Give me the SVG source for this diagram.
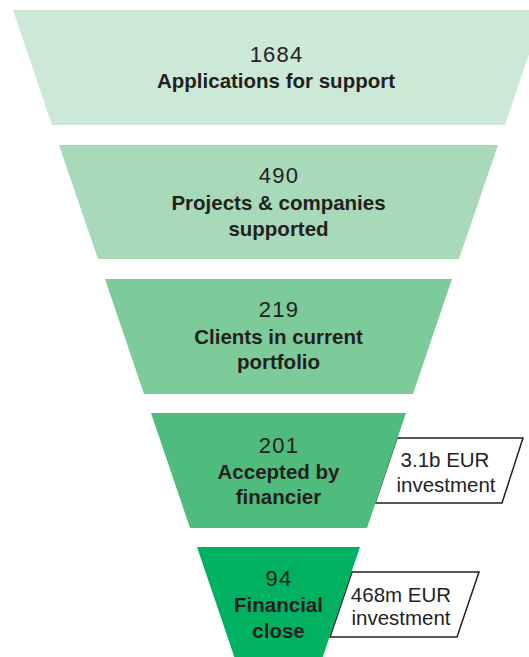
<svg xmlns="http://www.w3.org/2000/svg" width="529" height="657" viewBox="0 0 529 657">
<style>
.num{font-family:"Liberation Sans",Arial,sans-serif;font-size:22px;letter-spacing:1.2px;fill:#231f20;text-anchor:middle}
.lbl{font-family:"Liberation Sans",Arial,sans-serif;font-size:20.5px;font-weight:bold;fill:#231f20;text-anchor:middle}
.cal{font-family:"Liberation Sans",Arial,sans-serif;font-size:20.5px;fill:#231f20;text-anchor:middle}
.box{fill:#ffffff;stroke:#231f20;stroke-width:1.5;stroke-linejoin:miter}
</style>
<rect width="529" height="657" fill="#ffffff"/>
<g id="callouts">
<g id="callout-investment-201">
<polygon class="box" points="397,438 523,438 502,503 375,503"/>
<text class="cal" x="445" y="467">3.1b EUR</text>
<text class="cal" x="446" y="492">investment</text>
</g>
<g id="callout-investment-94">
<polygon class="box" points="352,572 479,572 457,637 330,637"/>
<text class="cal" x="401" y="602">468m EUR</text>
<text class="cal" x="401" y="625">investment</text>
</g>
</g>
<g id="stage-1">
<polygon points="13,10 544,10 505,125 52,125" fill="#cce8d6"/>
<text class="num" x="276.5" y="62">1684</text>
<text class="lbl" x="276" y="88">Applications for support</text>
</g>
<g id="stage-2">
<polygon points="59,145 498,145 459,259 98,259" fill="#a8d9b9"/>
<text class="num" x="279" y="183">490</text>
<text class="lbl" x="278.5" y="210">Projects &amp; companies</text>
<text class="lbl" x="278.5" y="236">supported</text>
</g>
<g id="stage-3">
<polygon points="105,279 452,279 413,394 144,394" fill="#7dca9a"/>
<text class="num" x="279" y="317">219</text>
<text class="lbl" x="278.5" y="344">Clients in current</text>
<text class="lbl" x="278.5" y="369">portfolio</text>
</g>
<g id="stage-4">
<polygon points="151,413 406,413 367,528 190,528" fill="#4fbb7c"/>
<text class="num" x="279" y="453">201</text>
<text class="lbl" x="278.5" y="479">Accepted by</text>
<text class="lbl" x="278.5" y="504">financier</text>
</g>
<g id="stage-5">
<polygon points="197,547 360,547 321,662 236,662" fill="#00b162"/>
<text class="num" x="279" y="586">94</text>
<text class="lbl" x="278.5" y="612">Financial</text>
<text class="lbl" x="278.5" y="638">close</text>
</g>
</svg>
